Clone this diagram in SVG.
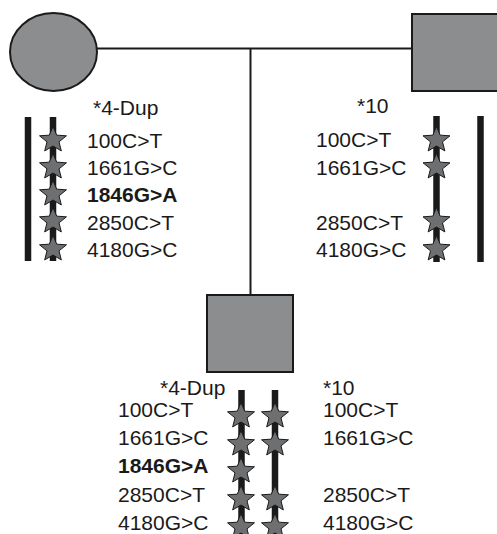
<svg xmlns="http://www.w3.org/2000/svg" xmlns:xlink="http://www.w3.org/1999/xlink" width="497" height="534" viewBox="0 0 497 534">
<style>
.t{font-family:"Liberation Sans",Arial,sans-serif;font-size:21px;fill:#1a1a1a}
.b{font-weight:bold}
.person{fill:#8c8d8f;stroke:#1a1a1a;stroke-width:2}
.bar{stroke:#1a1a1a;stroke-width:6.5;fill:none}
.line{stroke:#1a1a1a;stroke-width:2;fill:none}
.star{fill:#6e6f71;stroke:#1a1a1a;stroke-width:1}
</style>
<defs>
<path id="star" class="star" d="M0,-13.5 L3.7,-4.854 L13.48,-4.172 L5.99,1.854 L8.33,10.922 L0,6 L-8.33,10.922 L-5.99,1.854 L-13.48,-4.172 L-3.7,-4.854 Z"/>
</defs>
<rect width="497" height="534" fill="#fff"/>
<g id="connectors">
<path class="line" d="M96,48.5 H412 M250.5,48.5 V295"/>
</g>
<g id="mother">
<ellipse class="person" cx="53.5" cy="52" rx="43.5" ry="39"/>
<line class="bar" x1="28" y1="117" x2="28" y2="261"/>
<line class="bar" x1="53" y1="117" x2="53" y2="261"/>
<use xlink:href="#star" x="53" y="140"/>
<use xlink:href="#star" x="53" y="167"/>
<use xlink:href="#star" x="53" y="194"/>
<use xlink:href="#star" x="53" y="221"/>
<use xlink:href="#star" x="53" y="249"/>
<text class="t" x="93" y="115">*4-Dup</text>
<text class="t" x="87" y="148">100C&gt;T</text>
<text class="t" x="87" y="175">1661G&gt;C</text>
<text class="t b" x="87" y="202">1846G&gt;A</text>
<text class="t" x="87" y="230">2850C&gt;T</text>
<text class="t" x="87" y="257">4180G&gt;C</text>
</g>
<g id="father">
<rect class="person" x="412" y="14" width="88" height="77"/>
<line class="bar" x1="436.5" y1="116" x2="436.5" y2="262"/>
<line class="bar" x1="480.5" y1="116" x2="480.5" y2="262"/>
<use xlink:href="#star" x="436.5" y="140"/>
<use xlink:href="#star" x="436.5" y="167"/>
<use xlink:href="#star" x="436.5" y="221"/>
<use xlink:href="#star" x="436.5" y="249"/>
<text class="t" x="357" y="113">*10</text>
<text class="t" x="316" y="147">100C&gt;T</text>
<text class="t" x="316" y="175">1661G&gt;C</text>
<text class="t" x="316" y="230">2850C&gt;T</text>
<text class="t" x="316" y="257">4180G&gt;C</text>
</g>
<g id="child">
<rect class="person" x="207" y="295" width="86" height="77"/>
<line class="bar" x1="241.5" y1="390" x2="241.5" y2="534"/>
<line class="bar" x1="275" y1="390" x2="275" y2="534"/>
<use xlink:href="#star" x="241" y="416"/>
<use xlink:href="#star" x="241" y="444"/>
<use xlink:href="#star" x="241" y="471"/>
<use xlink:href="#star" x="241" y="499"/>
<use xlink:href="#star" x="241" y="527"/>
<use xlink:href="#star" x="275" y="416"/>
<use xlink:href="#star" x="275" y="444"/>
<use xlink:href="#star" x="275" y="499"/>
<use xlink:href="#star" x="275" y="527"/>
<text class="t" x="160" y="395">*4-Dup</text>
<text class="t" x="118" y="417">100C&gt;T</text>
<text class="t" x="118" y="445">1661G&gt;C</text>
<text class="t b" x="118" y="473">1846G&gt;A</text>
<text class="t" x="118" y="502">2850C&gt;T</text>
<text class="t" x="118" y="530">4180G&gt;C</text>
<text class="t" x="323" y="395">*10</text>
<text class="t" x="323" y="417">100C&gt;T</text>
<text class="t" x="323" y="445">1661G&gt;C</text>
<text class="t" x="323" y="502">2850C&gt;T</text>
<text class="t" x="323" y="530">4180G&gt;C</text>
</g>
</svg>
